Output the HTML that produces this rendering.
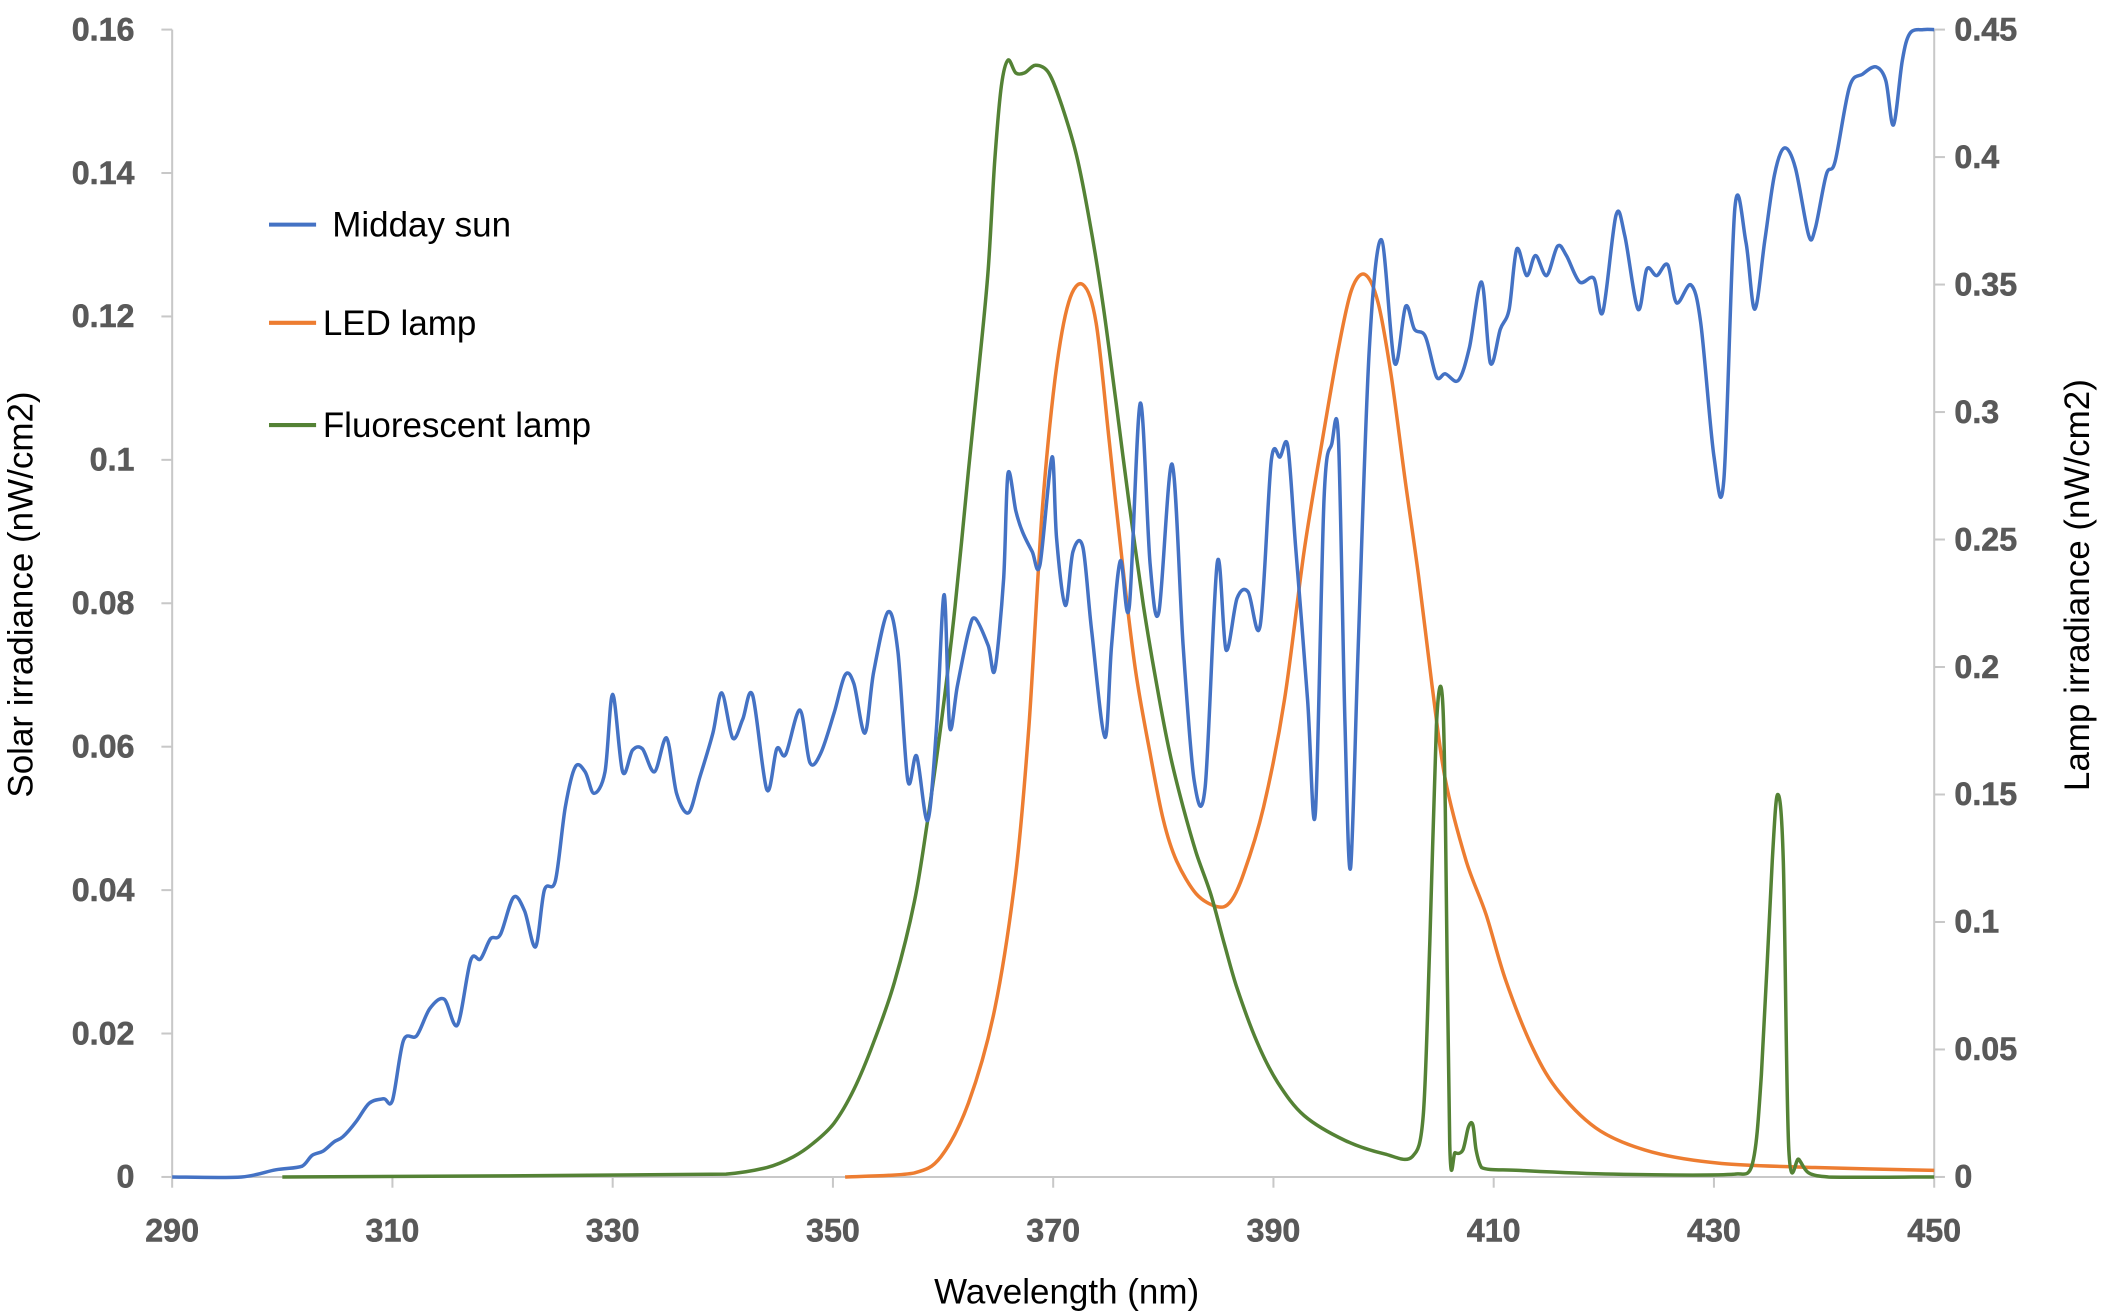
<!DOCTYPE html>
<html><head><meta charset="utf-8"><style>
html,body{margin:0;padding:0;background:#fff}
svg{display:block}
.tk{font-family:"Liberation Sans",sans-serif;font-weight:bold;font-size:24px;fill:#595959;stroke:#595959;stroke-width:0.4}
.tt{font-family:"Liberation Sans",sans-serif;font-size:26px;fill:#000}
.lg{font-family:"Liberation Sans",sans-serif;font-size:26px;fill:#000}
</style></head><body>
<svg id="chart" width="2101" height="1313" viewBox="0 0 1562 976.14" xmlns="http://www.w3.org/2000/svg">
<g id="axes"></g>
<g id="series"></g>
<g>
<line x1="200" y1="167" x2="235" y2="167" stroke="#4472c4" stroke-width="3"/>
<text class="lg" x="247" y="176">Midday sun</text>
<line x1="200" y1="240" x2="235" y2="240" stroke="#ed7d31" stroke-width="3"/>
<text class="lg" x="240" y="249">LED lamp</text>
<line x1="200" y1="316" x2="235" y2="316" stroke="#548235" stroke-width="3"/>
<text class="lg" x="240" y="325">Fluorescent lamp</text>
</g>
<text class="tt" x="793" y="969" text-anchor="middle">Wavelength (nm)</text>
<text class="tt" transform="translate(24,442) rotate(-90)" text-anchor="middle">Solar irradiance (nW/cm2)</text>
<text class="tt" transform="translate(1553,435) rotate(-90)" text-anchor="middle">Lamp irradiance (nW/cm2)</text>
</svg>
<script>
const xTicks=[290,310,330,350,370,390,410,430,450];
const leftTicks=[0,0.02,0.04,0.06,0.08,0.1,0.12,0.14,0.16];
const leftTickLabels=["0","0.02","0.04","0.06","0.08","0.1","0.12","0.14","0.16"];
const rightTicks=[0,0.05,0.1,0.15,0.2,0.25,0.3,0.35,0.4,0.45];
const rightTickLabels=["0","0.05","0.1","0.15","0.2","0.25","0.3","0.35","0.4","0.45"];
const sunWl=[290,296.3,299.4,301.8,302.7,303.7,304.7,305.5,306.7,307.9,309.2,310,311,312.2,313.4,314.7,315.9,317.1,318,318.9,319.8,321,322,323,323.8,324.8,325.7,326.6,327.5,328.3,329.3,330,330.9,331.8,332.7,333.8,334.9,335.8,336.9,337.9,339.1,339.9,340.9,341.8,342.7,344,344.9,345.7,347,347.9,348.9,350.1,351.1,351.9,352.9,353.7,355,355.9,356.8,357.6,358.6,359.4,360.1,360.6,361.3,362.3,362.9,364.1,364.7,365.5,365.9,366.6,367.2,368.1,368.8,369.9,370.3,371.1,371.8,372.7,373.5,374.7,375.3,376.1,376.9,377.9,378.8,379.6,380.8,381.8,382.8,383.8,384.9,385.7,386.7,387.7,388.8,389.8,390.6,391.3,392,393.1,393.8,394.6,395.3,395.9,396.5,397,397.7,398.7,399.8,401,402,402.8,403.8,404.8,405.6,406.8,407.8,408.9,409.7,410.6,411.4,412.1,413,413.8,414.8,415.8,416.6,417.8,419.1,419.9,421.1,421.9,423.1,423.9,424.8,425.8,426.6,427.9,428.8,430,430.9,431.9,432.9,433.7,434.6,435.5,436.4,437.4,438.6,439.2,440.2,441,442.3,443.5,444.7,445.6,446.3,447.1,447.8,449,450];
const sunVal=[0,0,0.001,0.0015,0.003,0.0036,0.0049,0.0056,0.0077,0.0103,0.0109,0.0107,0.019,0.0197,0.0235,0.0248,0.0212,0.0302,0.0304,0.0332,0.0338,0.039,0.0371,0.0321,0.04,0.0413,0.0516,0.0572,0.0565,0.0535,0.0565,0.0673,0.0565,0.0595,0.0597,0.0565,0.0612,0.0535,0.0508,0.0557,0.0619,0.0675,0.0612,0.0638,0.0672,0.054,0.0597,0.0589,0.0651,0.0578,0.0591,0.0647,0.07,0.0688,0.0619,0.0704,0.0788,0.0732,0.0553,0.0587,0.0497,0.0625,0.0812,0.0628,0.0685,0.076,0.0779,0.0741,0.0707,0.0835,0.0981,0.0929,0.09,0.0872,0.0854,0.1004,0.0891,0.0797,0.0872,0.0878,0.076,0.0613,0.0741,0.0859,0.0794,0.1079,0.0854,0.0788,0.0994,0.0741,0.0553,0.0544,0.0857,0.0735,0.0807,0.0816,0.0769,0.0998,0.1004,0.1019,0.0882,0.0666,0.0507,0.0947,0.1022,0.1028,0.0628,0.0431,0.0741,0.1154,0.1307,0.1135,0.1214,0.1182,0.1172,0.1116,0.112,0.1111,0.1157,0.1248,0.1135,0.1182,0.121,0.1294,0.1257,0.1285,0.1257,0.1298,0.1285,0.1248,0.1253,0.1206,0.1341,0.1313,0.121,0.1266,0.1257,0.1272,0.1219,0.1244,0.1191,0.1004,0.0972,0.1351,0.1304,0.121,0.1304,0.1398,0.1435,0.1407,0.1313,0.1323,0.1398,0.1416,0.152,0.1538,0.1548,0.1529,0.1467,0.1557,0.1595,0.16,0.16];
const ledWl=[351.1,357.4,359.8,362.3,364.7,366.6,367.8,369,370.2,371.4,372.7,373.9,375.1,376.3,377.5,378.8,380,381.2,383,384.9,386.1,387.3,389.1,391,392.8,394.6,395.9,397.1,398.3,399.5,400.7,402,403.2,404.4,405.6,407.5,409.3,411.1,413.6,416,419.7,424.6,430.7,439.2,450];
const ledVal=[0,0.0016,0.0079,0.029,0.066,0.119,0.177,0.261,0.314,0.343,0.35,0.335,0.288,0.24,0.198,0.166,0.14,0.124,0.111,0.106,0.108,0.119,0.145,0.187,0.246,0.293,0.325,0.348,0.354,0.343,0.314,0.272,0.235,0.193,0.156,0.124,0.103,0.077,0.05,0.033,0.018,0.0095,0.0053,0.0037,0.0026];
const fluWl=[300,340.3,344,346.4,348.2,350.1,351.9,353.7,355.6,357.4,358.6,359.8,361.1,362.3,363.3,364.1,364.7,365.3,365.9,366.6,367.4,368.4,369.6,370.8,372.1,373.3,374.5,375.7,376.9,378.2,379.4,380.6,381.8,383,384.3,385.5,386.7,388.5,390.4,392.8,396.5,400.1,402.6,403.6,404.2,404.8,405.3,405.6,406,406.5,407.2,407.7,408.1,408.4,408.9,412.3,420.9,431.9,433.5,434.3,435.3,435.8,436.3,436.8,437.7,438.6,440.4,450];
const fluVal=[0,0.0011,0.0037,0.0079,0.0132,0.0211,0.0343,0.0528,0.0766,0.108,0.14,0.177,0.224,0.277,0.319,0.356,0.399,0.428,0.438,0.433,0.433,0.436,0.433,0.42,0.401,0.375,0.343,0.304,0.264,0.224,0.193,0.166,0.145,0.127,0.111,0.092,0.074,0.053,0.037,0.024,0.0143,0.009,0.0079,0.024,0.092,0.177,0.19,0.145,0.0132,0.0095,0.0106,0.0195,0.0206,0.0106,0.0037,0.0026,0.0011,0.0011,0.0053,0.04,0.124,0.15,0.124,0.0106,0.0069,0.0016,0,0];

const X0=128,X1=1438,Y0=875,Y1=22;
const xs=w=>X0+(w-290)/160*(X1-X0);
const yl=v=>Y0-v/0.16*(Y0-Y1);
const yr=v=>Y0-v/0.45*(Y0-Y1);
const NS='http://www.w3.org/2000/svg';
function mk(tag,attrs,parent){const e=document.createElementNS(NS,tag);for(const k in attrs)e.setAttribute(k,attrs[k]);parent.appendChild(e);return e;}
const axes=document.getElementById('axes');
const ax={stroke:'#c8c8c8','stroke-width':1.5,fill:'none'};
let l=mk('line',Object.assign({x1:X0,y1:Y1,x2:X0,y2:Y0},ax),axes);


l=mk('line',Object.assign({x1:X1,y1:Y1,x2:X1,y2:Y0},ax),axes);


l=mk('line',Object.assign({x1:X0,y1:Y0,x2:X1+6,y2:Y0},ax),axes);


leftTicks.forEach((v,i)=>{
  const y=yl(v);
  mk('line',Object.assign({x1:X0-8,y1:y,x2:X0,y2:y},ax),axes);
  const t=mk('text',{x:100,y:y+8,'text-anchor':'end',class:'tk'},axes);
  t.textContent=leftTickLabels[i];
  
  
});
rightTicks.forEach((v,i)=>{
  const y=yr(v);
  mk('line',Object.assign({x1:X1,y1:y,x2:X1+8,y2:y},ax),axes);
  const t=mk('text',{x:1453,y:y+8,'text-anchor':'start',class:'tk'},axes);
  t.textContent=rightTickLabels[i];
  
  
});
xTicks.forEach(w=>{
  const x=xs(w);
  mk('line',Object.assign({x1:x,y1:Y0,x2:x,y2:Y0+8},ax),axes);
  const t=mk('text',{x:x,y:923,'text-anchor':'middle',class:'tk'},axes);
  t.textContent=String(w);
  
  
});
function smooth(pts){
  let d='M'+pts[0][0].toFixed(1)+','+pts[0][1].toFixed(1);
  for(let i=0;i<pts.length-1;i++){
    const p0=pts[Math.max(0,i-1)],p1=pts[i],p2=pts[i+1],p3=pts[Math.min(pts.length-1,i+2)];
    const t=0.16;
    let c1=[p1[0]+(p2[0]-p0[0])*t,p1[1]+(p2[1]-p0[1])*t];
    let c2=[p2[0]-(p3[0]-p1[0])*t,p2[1]-(p3[1]-p1[1])*t];
    const dx=p2[0]-p1[0];
    c1[0]=Math.min(Math.max(c1[0],p1[0]),p1[0]+dx*0.45);
    c2[0]=Math.max(Math.min(c2[0],p2[0]),p2[0]-dx*0.45);
    d+=' C'+c1[0].toFixed(1)+','+c1[1].toFixed(1)+' '+c2[0].toFixed(1)+','+c2[1].toFixed(1)+' '+p2[0].toFixed(1)+','+p2[1].toFixed(1);
  }
  return d;
}
const ser=document.getElementById('series');
function draw(wl,vals,ys,color,name){
  const pts=wl.map((w,i)=>[xs(w),ys(vals[i])]);
  const p=mk('path',{d:smooth(pts),stroke:color,'stroke-width':2.6,fill:'none','stroke-linejoin':'round'},ser);
  
  
}
draw(ledWl,ledVal,yr,'#ed7d31','led-lamp-line');
draw(fluWl,fluVal,yr,'#548235','fluorescent-lamp-line');
draw(sunWl,sunVal,yl,'#4472c4','midday-sun-line');
</script>
</body></html>
